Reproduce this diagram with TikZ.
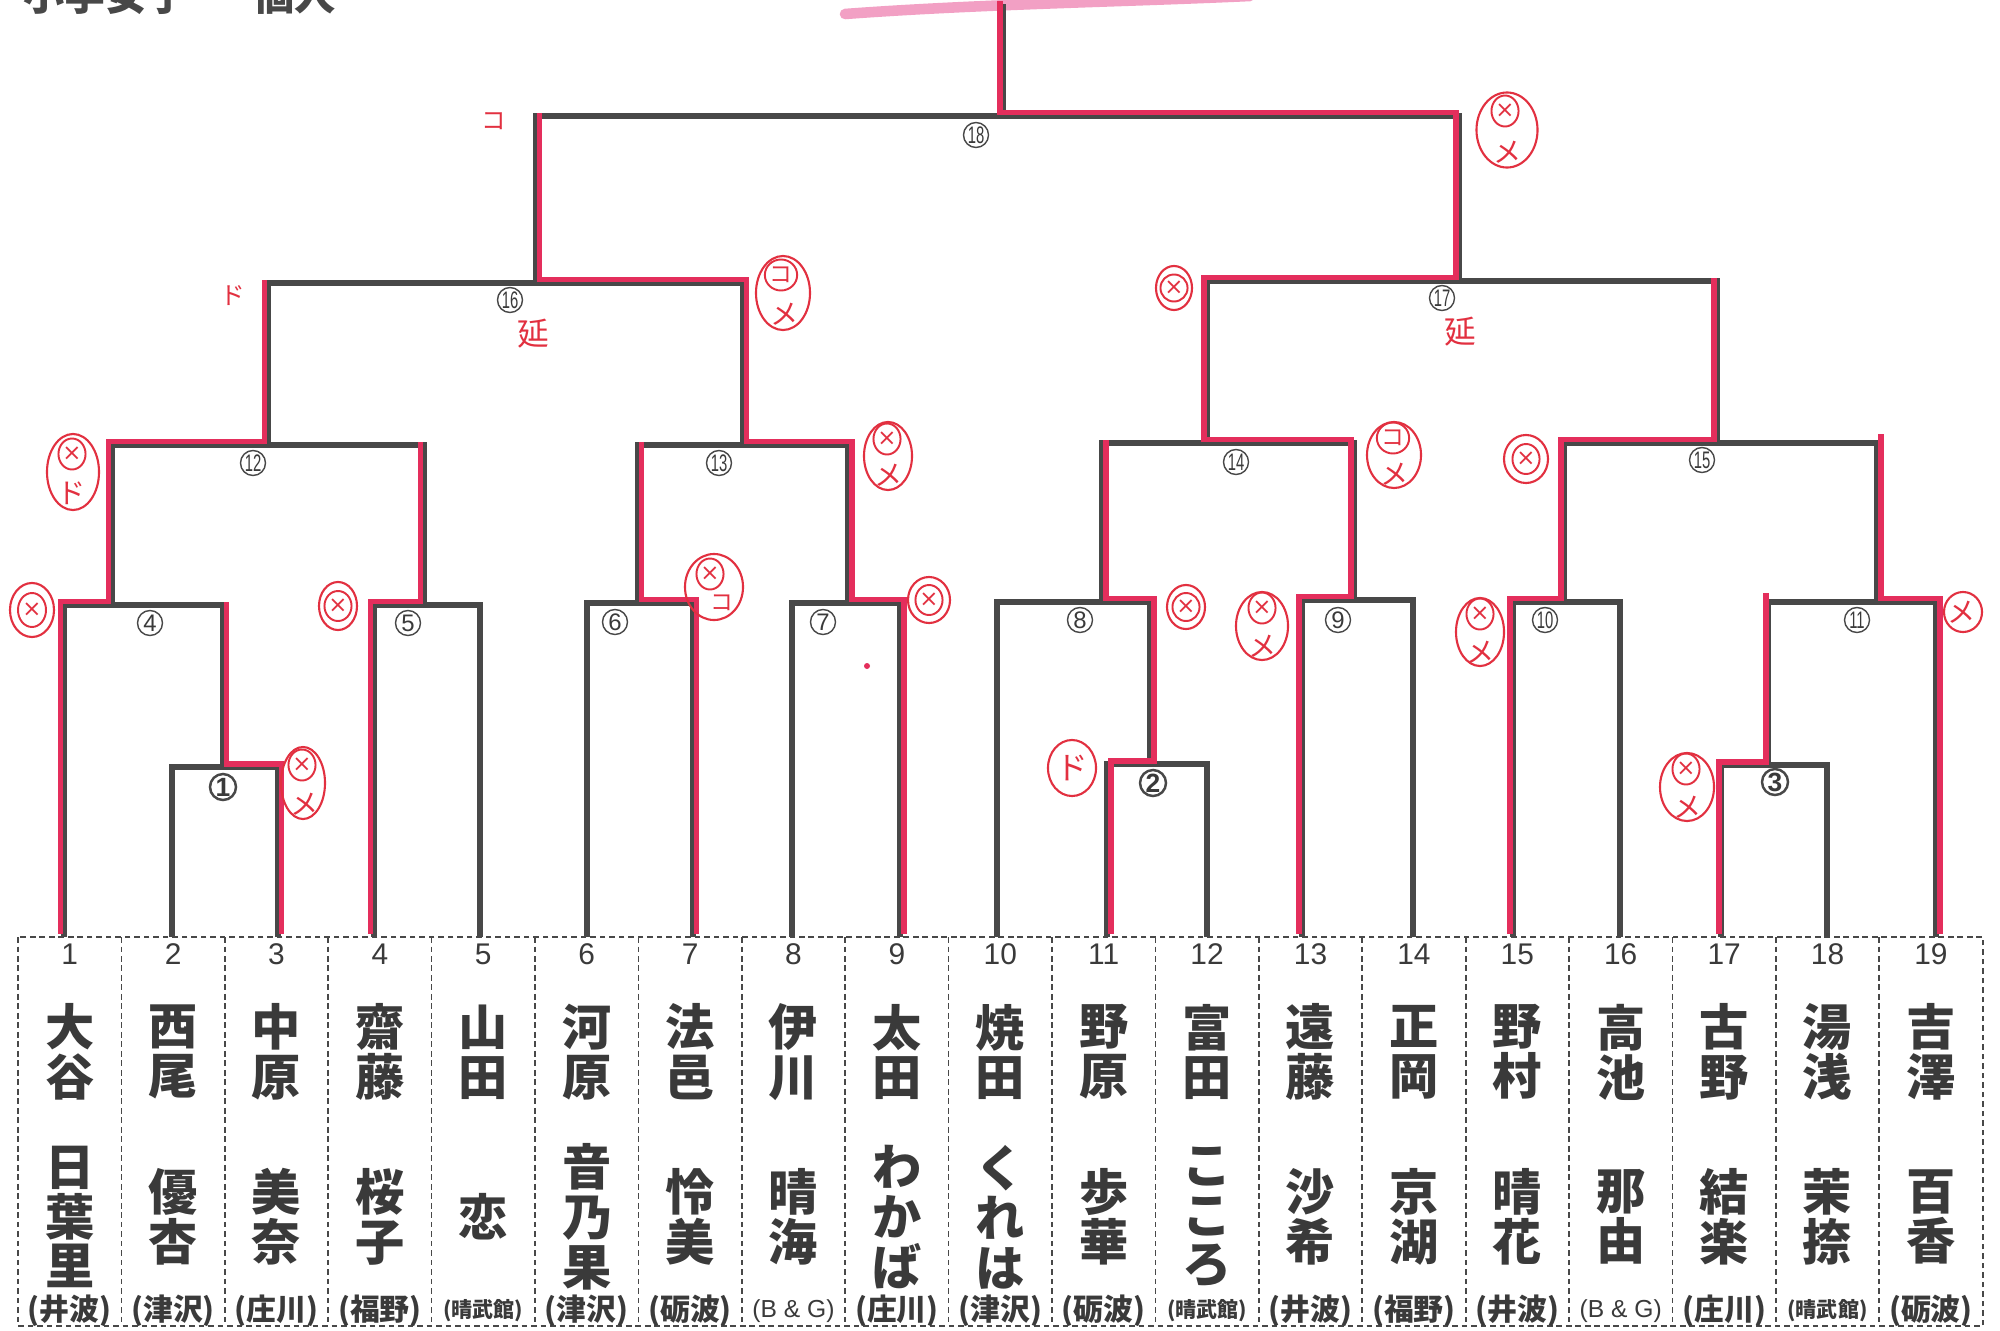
\documentclass[tikz,border=0pt]{standalone}
\usepackage{fontspec}
\setmainfont{Liberation Sans}
\newfontfamily\jp{Noto Sans CJK JP}
\newfontfamily\djv{DejaVu Sans}
\usetikzlibrary{shapes.geometric,calc}
\definecolor{ink}{RGB}{72,72,72}
\definecolor{txt}{RGB}{58,58,58}
\definecolor{hl}{RGB}{228,46,92}
\definecolor{pen}{RGB}{226,48,64}
\definecolor{smear}{RGB}{242,160,196}
\newcommand\affA[1]{{\jp\bfseries\fontsize{8.5}{9}\selectfont(#1)}}
\newcommand\affB[1]{{\jp\bfseries\fontsize{6}{7}\selectfont(#1)}}
\newcommand\affC[1]{{\fontsize{7}{8}\selectfont(#1)}}
\newcommand\twod[1]{\scalebox{0.62}[1]{#1}}
\begin{document}
\begin{tikzpicture}[x=0.01cm,y=-0.01cm,
  gl/.style={draw=ink,line width=1.5pt,line join=miter},
  rl/.style={draw=hl,line width=1.7pt,line join=miter},
  dline/.style={draw=ink,line width=0.5pt,dash pattern=on 1.6pt off 1.1pt},
  cn/.style={circle,draw=ink,line width=0.4pt,minimum size=0.25cm,inner sep=0pt,text=txt,font=\fontsize{6.8}{7}\selectfont},
  cnb/.style={cn,line width=0.7pt,minimum size=0.26cm,font=\bfseries\fontsize{7.5}{8}\selectfont},
  numt/.style={inner sep=0pt,text=txt,font=\fontsize{8.5}{9}\selectfont},
  namet/.style={inner sep=0pt,align=center,text=txt,font=\jp\bfseries\fontsize{14}{14.2}\selectfont},
  afft/.style={inner sep=0pt,text=txt},
  rmk/.style={ellipse,draw=pen,line width=0.6pt,inner sep=0pt},
  rin/.style={ellipse,draw=pen,line width=0.55pt,inner sep=0pt,minimum width=0.26cm,minimum height=0.31cm,text=pen,font=\djv\fontsize{6.5}{6.5}\selectfont},
  rtx/.style={text=pen,inner sep=0pt,font=\jp\fontsize{8}{8}\selectfont}]
\useasboundingbox (0,0) rectangle (2000,1330);
\clip (0,0) rectangle (2000,1330);
\fill[white] (0,0) rectangle (2000,1330);

% title (cut off at top, as in the original)
\node[anchor=base west,inner sep=0pt,text=ink,font=\jp\bfseries\fontsize{11.7}{12}\selectfont] (title1) at (23,11) {小学女子};
\node[anchor=base west,inner sep=0pt,text=ink,font=\jp\bfseries\fontsize{11.7}{12}\selectfont] (title2) at (253,11) {個人};

% pink smear
\draw[smear,line width=3pt,line cap=round] (845,14) .. controls (980,4) and (1120,2) .. (1250,-4);

% leaves
\foreach \n/\x in {1/64,2/172,3/278,4/374,5/480,6/587,7/693,8/792,9/900,10/997,11/1107,12/1207,13/1302,14/1413,15/1513,16/1620,17/1721,18/1827,19/1936}
  \coordinate (p\n) at (\x,937);
% joints
\coordinate (j1) at (223,767);
\coordinate (j2) at (1150,764);
\coordinate (j3) at (1768,765);
\coordinate (j4) at (112,605);
\coordinate (j5) at (424,605);
\coordinate (j6) at (638,603);
\coordinate (j7) at (848,603);
\coordinate (j8) at (1102,602);
\coordinate (j9) at (1354,600);
\coordinate (j10) at (1564,602);
\coordinate (j11) at (1877,602);
\coordinate (j12) at (268,445);
\coordinate (j13) at (743,445);
\coordinate (j14) at (1207,443);
\coordinate (j15) at (1717,443);
\coordinate (j16) at (536,283);
\coordinate (j17) at (1459,281);
\coordinate (j18) at (1003,116);
\coordinate (top) at (1003,4);

% gray bracket
\draw[gl] (p2) |- (j1) -| (p3);
\draw[gl] (p11) |- (j2) -| (p12);
\draw[gl] (p17) |- (j3) -| (p18);
\draw[gl] (p1) |- (j4) -| (j1);
\draw[gl] (p4) |- (j5) -| (p5);
\draw[gl] (p6) |- (j6) -| (p7);
\draw[gl] (p8) |- (j7) -| (p9);
\draw[gl] (p10) |- (j8) -| (j2);
\draw[gl] (p13) |- (j9) -| (p14);
\draw[gl] (p15) |- (j10) -| (p16);
\draw[gl] (j3) |- (j11) -| (p19);
\draw[gl] (j4) |- (j12) -| (j5);
\draw[gl] (j6) |- (j13) -| (j7);
\draw[gl] (j8) |- (j14) -| (j9);
\draw[gl] (j10) |- (j15) -| (j11);
\draw[gl] (j12) |- (j16) -| (j13);
\draw[gl] (j14) |- (j17) -| (j15);
\draw[gl] (j16) |- (j18) -| (j17);
\draw[gl] (j18) -- (top);

% red winner paths
\draw[rl,transform canvas={shift={(-3.5,-3.5)}}] (p1) |- (j4) |- (j12) -- (j12 |- j16);
\draw[rl,transform canvas={shift={(3.5,-3.5)}}] (p3) |- (j1) -- (j1 |- j4);
\draw[rl,transform canvas={shift={(-3.5,-3.5)}}] (p4) |- (j5) -- (j5 |- j12);
\draw[rl,transform canvas={shift={(3.5,-3.5)}}] (p7) |- (j6) -- (j6 |- j13);
\draw[rl,transform canvas={shift={(3.5,-3.5)}}] (p9) |- (j7) |- (j13) |- (j16) -- (j16 |- j18);
\draw[rl,transform canvas={shift={(3.5,-3.5)}}] (p11) |- (j2) |- (j8) -- (j8 |- j14);
\draw[rl,transform canvas={shift={(-3.5,-3.5)}}] (p13) |- (j9) |- (j14) |- (j17) |- (j18) -- (top);
\draw[rl,transform canvas={shift={(-3.5,-3.5)}}] (p15) |- (j10) |- (j15) -- (j15 |- j17);
\draw[rl,transform canvas={shift={(3.5,-3.5)}}] (p19) |- (j11) -- ($(j11 |- j15)+(0,-6)$);
\draw[rl,transform canvas={shift={(-2.5,-3.5)}}] (p17) |- (j3) -- ($(j3 |- j11)+(0,-6)$);

% match labels
\node[cnb] (c1) at (223,787) {1};
\node[cnb] (c2) at (1153,783) {2};
\node[cnb] (c3) at (1775,782) {3};
\node[cn] (c4) at (150,623) {4};
\node[cn] (c5) at (408,623) {5};
\node[cn] (c6) at (615,622) {6};
\node[cn] (c7) at (823,622) {7};
\node[cn] (c8) at (1080,620) {8};
\node[cn] (c9) at (1338,620) {9};
\node[cn] (c10) at (1545,620) {\twod{10}};
\node[cn] (c11) at (1857,620) {\twod{11}};
\node[cn] (c12) at (253,463) {\twod{12}};
\node[cn] (c13) at (719,463) {\twod{13}};
\node[cn] (c14) at (1236,462) {\twod{14}};
\node[cn] (c15) at (1702,460) {\twod{15}};
\node[cn] (c16) at (510,300) {\twod{16}};
\node[cn] (c17) at (1442,298) {\twod{17}};
\node[cn] (c18) at (976,135) {\twod{18}};

% player table
\draw[dline] (18,937) rectangle (1983,1326);
\foreach \k in {1,...,18} \draw[dline] ({18+103.4*\k},937) -- ({18+103.4*\k},1326);

\foreach \i/\s/\g/\a in {
  1/{大\\谷}/{日\\葉\\里}/{\affA{井波}},
  2/{西\\尾}/{優\\杏}/{\affA{津沢}},
  3/{中\\原}/{美\\奈}/{\affA{庄川}},
  4/{齋\\藤}/{桜\\子}/{\affA{福野}},
  5/{山\\田}/{恋}/{\affB{晴武館}},
  6/{河\\原}/{音\\乃\\果}/{\affA{津沢}},
  7/{法\\邑}/{怜\\美}/{\affA{砺波}},
  8/{伊\\川}/{晴\\海}/{\affC{B \& G}},
  9/{太\\田}/{わ\\か\\ば}/{\affA{庄川}},
  10/{焼\\田}/{く\\れ\\は}/{\affA{津沢}},
  11/{野\\原}/{歩\\華}/{\affA{砺波}},
  12/{富\\田}/{こ\\こ\\ろ}/{\affB{晴武館}},
  13/{遠\\藤}/{沙\\希}/{\affA{井波}},
  14/{正\\岡}/{京\\湖}/{\affA{福野}},
  15/{野\\村}/{晴\\花}/{\affA{井波}},
  16/{高\\池}/{那\\由}/{\affC{B \& G}},
  17/{古\\野}/{結\\楽}/{\affA{庄川}},
  18/{湯\\浅}/{茉\\捺}/{\affB{晴武館}},
  19/{吉\\澤}/{百\\香}/{\affA{砺波}}} {
  \pgfmathsetmacro\cx{18+103.4*(\i-0.5)}
  \node[numt] (num\i) at (\cx,954) {\i};
  \node[namet] (sur\i) at (\cx,1052) {\s};
  \node[namet] (giv\i) at (\cx,1217) {\g};
  \node[afft] (aff\i) at (\cx,1311) {\a};
}

% handwritten red marks
\node[rmk,minimum width=0.61cm,minimum height=0.75cm] (mk1) at (1507,130) {};
\node[rin] (mk1a) at (1505,111) {×};
\node[rtx] (mk1b) at (1508,152) {メ};

\node[rmk,minimum width=0.54cm,minimum height=0.74cm] (mk2) at (783,293) {};
\node[rin,font=\jp\fontsize{6.5}{6.5}\selectfont] (mk2a) at (781,275) {コ};
\node[rtx] (mk2b) at (785,314) {メ};

\node[rmk,minimum width=0.36cm,minimum height=0.44cm] (mk3) at (1174,288) {};
\node[rin,minimum width=0.22cm,minimum height=0.27cm] (mk3a) at (1174,288) {×};

\node[rmk,minimum width=0.52cm,minimum height=0.76cm] (mk4) at (73,472) {};
\node[rin] (mk4a) at (72,454) {×};
\node[rtx] (mk4b) at (72,493) {ド};

\node[rmk,minimum width=0.48cm,minimum height=0.68cm] (mk5) at (888,456) {};
\node[rin] (mk5a) at (887,439) {×};
\node[rtx] (mk5b) at (889,475) {メ};

\node[rmk,minimum width=0.44cm,minimum height=0.54cm] (mk6) at (32,610) {};
\node[rin,minimum width=0.28cm,minimum height=0.34cm] (mk6a) at (32,610) {×};

\node[rmk,minimum width=0.38cm,minimum height=0.48cm] (mk7) at (338,606) {};
\node[rin,minimum width=0.24cm,minimum height=0.3cm] (mk7a) at (338,606) {×};

\node[rmk,minimum width=0.58cm,minimum height=0.66cm] (mk8) at (714,587) {};
\node[rin] (mk8a) at (710,574) {×};
\node[rtx,font=\jp\fontsize{6.5}{6.5}\selectfont] (mk8b) at (722,603) {コ};

\node[rmk,minimum width=0.42cm,minimum height=0.46cm] (mk9) at (929,600) {};
\node[rin,minimum width=0.26cm,minimum height=0.3cm] (mk9a) at (929,600) {×};

\node[rmk,minimum width=0.44cm,minimum height=0.72cm] (mk10) at (303,783) {};
\node[rin] (mk10a) at (302,765) {×};
\node[rtx] (mk10b) at (305,804) {メ};

\node[rmk,minimum width=0.38cm,minimum height=0.44cm] (mk11) at (1186,607) {};
\node[rin,minimum width=0.24cm,minimum height=0.28cm] (mk11a) at (1186,607) {×};

\node[rmk,minimum width=0.52cm,minimum height=0.68cm] (mk12) at (1262,626) {};
\node[rin] (mk12a) at (1262,608) {×};
\node[rtx] (mk12b) at (1263,646) {メ};

\node[rmk,minimum width=0.54cm,minimum height=0.66cm] (mk13) at (1394,455) {};
\node[rin,font=\jp\fontsize{6.5}{6.5}\selectfont] (mk13a) at (1393,438) {コ};
\node[rtx] (mk13b) at (1395,474) {メ};

\node[rmk,minimum width=0.44cm,minimum height=0.48cm] (mk14) at (1526,459) {};
\node[rin,minimum width=0.26cm,minimum height=0.3cm] (mk14a) at (1526,459) {×};

\node[rmk,minimum width=0.48cm,minimum height=0.68cm] (mk15) at (1480,632) {};
\node[rin] (mk15a) at (1480,614) {×};
\node[rtx] (mk15b) at (1481,652) {メ};

\node[rmk,minimum width=0.38cm,minimum height=0.4cm] (mk16) at (1963,612) {};
\node[rtx] (mk16a) at (1962,612) {メ};

\node[rmk,minimum width=0.48cm,minimum height=0.56cm] (mk17) at (1072,768) {};
\node[rtx,font=\jp\fontsize{9}{9}\selectfont] (mk17a) at (1072,768) {ド};

\node[rmk,minimum width=0.54cm,minimum height=0.68cm] (mk18) at (1687,787) {};
\node[rin] (mk18a) at (1686,769) {×};
\node[rtx] (mk18b) at (1688,807) {メ};

% loose red notes
\node[rtx,font=\jp\fontsize{7}{7}\selectfont] (nk1) at (494,121) {コ};
\node[rtx,font=\jp\fontsize{7}{7}\selectfont] (nk2) at (233,296) {ド};
\node[rtx,font=\jp\fontsize{9}{9}\selectfont] (nk3) at (533,334) {延};
\node[rtx,font=\jp\fontsize{9}{9}\selectfont] (nk4) at (1460,332) {延};
\fill[hl] (867,666) circle[radius=3];
\end{tikzpicture}
\end{document}
